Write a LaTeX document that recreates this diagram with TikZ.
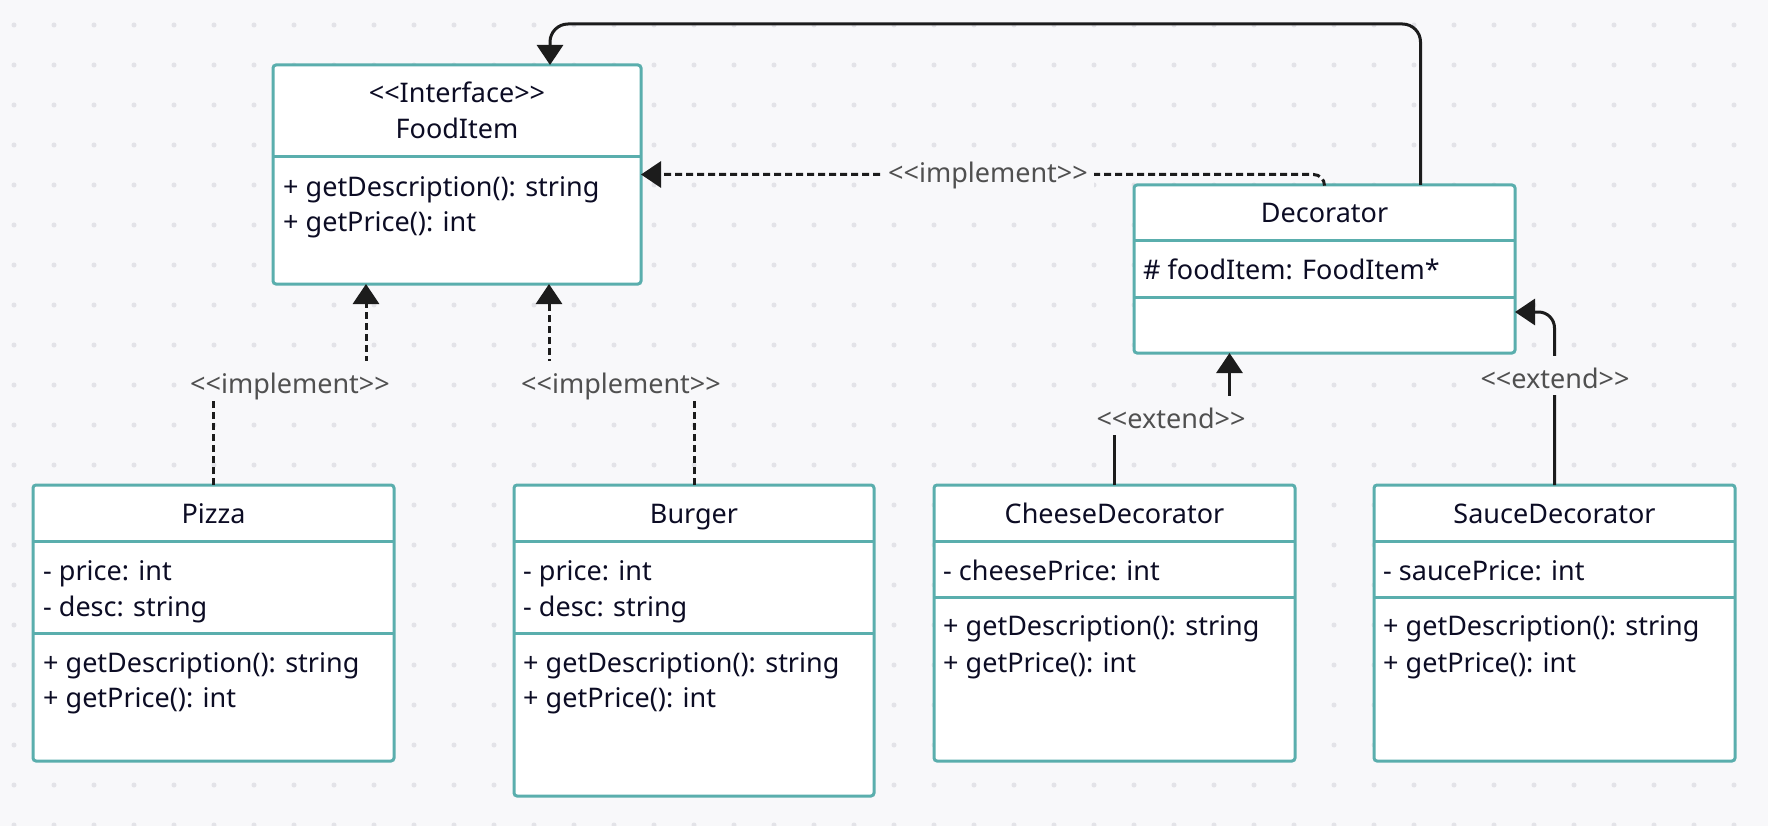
\documentclass[tikz,border=0pt]{standalone}
\usepackage{fontspec}
\setmainfont{Noto Sans}[Ligatures=TeXOff]
\usetikzlibrary{arrows.meta,calc}
\definecolor{bg}{HTML}{F8F8FA}
\definecolor{dotc}{HTML}{E3E3E8}
\definecolor{boxline}{HTML}{5AAEAD}
\definecolor{ink}{HTML}{0C0C24}
\definecolor{lbl}{HTML}{505050}
\definecolor{arr}{HTML}{1C1C1C}
\begin{document}
\begin{tikzpicture}[x=1pt,y=-1pt,
  box/.style={draw=boxline, line width=3pt, fill=white, rounded corners=3pt, inner sep=0pt, outer sep=0pt, anchor=north west},
  sepline/.style={draw=boxline, line width=3pt},
  txt/.style={font=\fontsize{27}{32}\selectfont, text=ink, inner sep=0pt, anchor=base west},
  ttl/.style={font=\fontsize{27}{32}\selectfont, text=ink, inner sep=0pt, anchor=base},
  lab/.style={font=\fontsize{27}{32}\selectfont, text=lbl, fill=bg, inner xsep=6pt, inner ysep=3pt, text height=29pt, text depth=4pt, anchor=base},
  conn/.style={draw=arr, line width=3pt, -{Triangle[length=20pt,width=26pt]}},
  dashconn/.style={conn, dash pattern=on 7pt off 4pt},
]
\useasboundingbox (0,0) rectangle (1768,826);
\fill[bg] (0,0) rectangle (1768,826);
\foreach \i in {0,...,43}{\foreach \j in {0,...,20}{\fill[dotc] (14+40*\i,25+40*\j) circle (2.5pt);}}

% boxes
\node[box, minimum width=368pt, minimum height=219pt] (fooditem) at (273,65) {};
\node[box, minimum width=361pt, minimum height=276pt] (pizza) at (33,485) {};
\node[box, minimum width=360pt, minimum height=311pt] (burger) at (514,485) {};
\node[box, minimum width=381pt, minimum height=168pt] (decorator) at (1134,185) {};
\node[box, minimum width=361pt, minimum height=276pt] (cheese) at (934,485) {};
\node[box, minimum width=361pt, minimum height=276pt] (sauce) at (1374,485) {};

% separators
\draw[sepline] ($(fooditem.north west)+(0,92)$) -- ($(fooditem.north east)+(0,92)$);
\foreach \b in {pizza,burger}{
  \draw[sepline] ($(\b.north west)+(0,56)$) -- ($(\b.north east)+(0,56)$);
  \draw[sepline] ($(\b.north west)+(0,148)$) -- ($(\b.north east)+(0,148)$);
}
\foreach \b in {cheese,sauce,decorator}{
  \draw[sepline] ($(\b.north west)+(0,56)$) -- ($(\b.north east)+(0,56)$);
  \draw[sepline] ($(\b.north west)+(0,112)$) -- ($(\b.north east)+(0,112)$);
}

% texts: FoodItem
\node[ttl] (fi-st) at (457,103) {<<Interface>>};
\node[ttl] (fi-t) at (457,139) {FoodItem};
\node[txt] (fi-m1) at (283,197) {+ getDescription(): string};
\node[txt] (fi-m2) at (283,232) {+ getPrice(): int};
% Pizza
\node[ttl] (pz-t) at (213.5,523) {Pizza};
\node[txt] (pz-a1) at (43,580) {- price: int};
\node[txt] (pz-a2) at (43,616) {- desc: string};
\node[txt] (pz-m1) at (43,672) {+ getDescription(): string};
\node[txt] (pz-m2) at (43,707) {+ getPrice(): int};
% Burger
\node[ttl] (bg-t) at (694,523) {Burger};
\node[txt] (bg-a1) at (523,580) {- price: int};
\node[txt] (bg-a2) at (523,616) {- desc: string};
\node[txt] (bg-m1) at (523,672) {+ getDescription(): string};
\node[txt] (bg-m2) at (523,707) {+ getPrice(): int};
% Cheese
\node[ttl] (ch-t) at (1114.5,523) {CheeseDecorator};
\node[txt] (ch-a1) at (943,580) {- cheesePrice: int};
\node[txt] (ch-m1) at (943,635) {+ getDescription(): string};
\node[txt] (ch-m2) at (943,672) {+ getPrice(): int};
% Sauce
\node[ttl] (sc-t) at (1554.5,523) {SauceDecorator};
\node[txt] (sc-a1) at (1383,580) {- saucePrice: int};
\node[txt] (sc-m1) at (1383,635) {+ getDescription(): string};
\node[txt] (sc-m2) at (1383,672) {+ getPrice(): int};
% Decorator
\node[ttl] (dc-t) at (1324.5,223) {Decorator};
\node[txt] (dc-a1) at (1143,279) {\# foodItem: FoodItem*};

% connector helper coordinates
\coordinate (fiA) at ($(fooditem.south)+(-91,0)$);
\coordinate (fiB) at ($(fooditem.south)+(92,0)$);
\coordinate (fiTop) at ($(fooditem.north)+(93,0)$);
\coordinate (decTop) at ($(decorator.north)+(96,0)$);
\coordinate (decS) at ($(decorator.south)+(-95,0)$);
\coordinate (decE) at ($(decorator.east)+(0,43)$);
\coordinate (bendP) at (290,381);
\coordinate (bendB) at (621,381);
\coordinate (bendC) at (1172,414);
\coordinate (topY) at (0,24);

% connectors
\draw[dashconn] (pizza.north) -- (pizza.north |- bendP) -- (fiA |- bendP) -- (fiA);
\draw[dashconn] (burger.north) -- (burger.north |- bendB) -- (fiB |- bendB) -- (fiB);
\draw[dashconn, rounded corners=11pt] (decorator.north) |- (fooditem.east);
\draw[conn, rounded corners=18pt] (decTop) -- (decTop |- topY) -- (fiTop |- topY) -- (fiTop);
\draw[conn] (cheese.north) -- (cheese.north |- bendC) -- (decS |- bendC) -- (decS);
\draw[conn, rounded corners=16pt] (sauce.north) |- (decE);

% labels
\node[lab] (l-pz) at (290,393) {<<implement>>};
\node[lab] (l-bg) at (621,393) {<<implement>>};
\node[lab] (l-dc) at (988,183) {<<implement>>};
\node[lab] (l-ch) at (1171,428) {<<extend>>};
\node[lab] (l-sc) at (1555,388) {<<extend>>};
\end{tikzpicture}
\end{document}
